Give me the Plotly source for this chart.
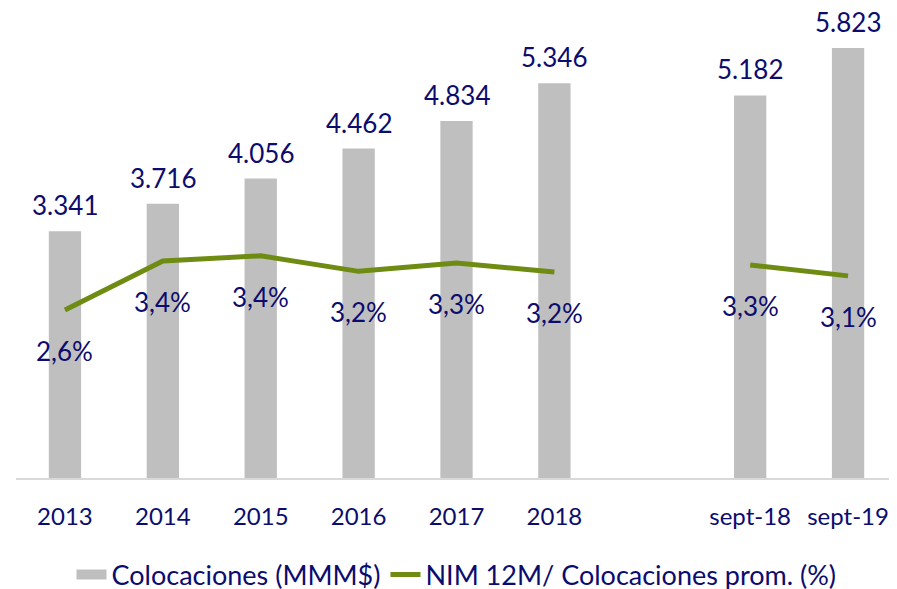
import plotly.graph_objects as go

categories = ["2013", "2014", "2015", "2016", "2017", "2018", " ", "sept-18", "sept-19"]
colocaciones = [3341, 3716, 4056, 4462, 4834, 5346, None, 5182, 5823]
nim = [2.60, 3.36, 3.44, 3.20, 3.33, 3.19, None, 3.30, 3.13]

NAVY = "#0C0C6E"
GRAY = "#BFBFBF"
GREEN = "#6E8B12"
FONT = "Lato"

fig = go.Figure()
fig.add_trace(go.Bar(
    x=categories, y=colocaciones, name="Colocaciones (MMM$)",
    marker=dict(color=GRAY, line=dict(width=0)), showlegend=False,
))
# legend entry for bars (wide gray swatch as in the reference)
fig.add_trace(go.Scatter(
    x=[None], y=[None], name="Colocaciones (MMM$)", mode="lines",
    line=dict(color=GRAY, width=16), showlegend=True,
))
fig.add_trace(go.Scatter(
    x=categories, y=nim, name="NIM 12M/ Colocaciones prom. (%)",
    mode="lines", line=dict(color=GREEN, width=5), yaxis="y2",
    connectgaps=False,
))

def fmt_thousands(v):
    return f"{v:,.0f}".replace(",", ".")

for i, v in enumerate(colocaciones):
    if v is None:
        continue
    fig.add_annotation(x=i, y=v, xref="x", yref="y", text=fmt_thousands(v),
                       showarrow=False, yanchor="bottom", yshift=8,
                       font=dict(family=FONT, size=26, color=NAVY))
for i, v in enumerate(nim):
    if v is None:
        continue
    fig.add_annotation(x=i, y=v, xref="x", yref="y2", text=f"{v:.1f}".replace(".", ",") + "%",
                       showarrow=False, yanchor="middle", yshift=-41,
                       font=dict(family=FONT, size=26, color=NAVY))

fig.update_layout(
    width=889, height=581,
    margin=dict(l=8, r=0, t=27, b=111, autoexpand=False),
    paper_bgcolor="white", plot_bgcolor="white",
    bargap=0.67,
    font=dict(family=FONT, size=24, color=NAVY),
    showlegend=True,
    legend=dict(orientation="h", x=0.5, xanchor="center", y=-0.219, yanchor="middle",
                font=dict(family=FONT, size=27, color=NAVY), tracegroupgap=0),
    xaxis=dict(type="category", range=[-0.5, 8.5], showgrid=False, showline=True,
               linecolor="#D9D9D9", linewidth=2, ticks="", ticklabelstandoff=16,
               ticklabeloverflow="allow",
               tickfont=dict(family=FONT, size=24, color=NAVY), zeroline=False),
    yaxis=dict(range=[0, 6000], visible=False, showgrid=False, zeroline=False),
    yaxis2=dict(range=[0, 6.86], overlaying="y", side="right", visible=False,
                showgrid=False, zeroline=False),
)

fig.write_html("out.html")
